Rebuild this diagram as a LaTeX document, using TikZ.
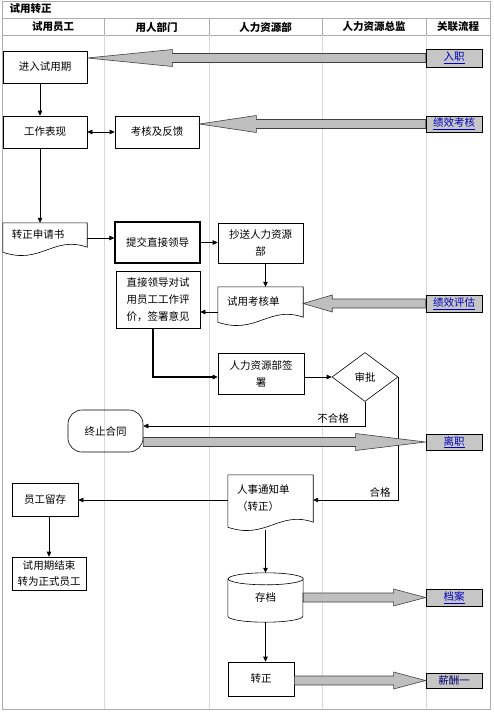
\documentclass[tikz,border=0pt]{standalone}
\usepackage{fontspec}
\setmainfont{Noto Sans CJK SC}
\usepackage{tikz}
\usetikzlibrary{arrows.meta,positioning,shapes,calc}

% document outline with wavy bottom
\newcommand{\docedge}[1]{%
  \draw[line width=0.6pt] (#1.south east) -- (#1.north east) -- (#1.north west) -- ($(#1.south west)+(0,5)$)
    .. controls ($(#1.south west)+(38,18)$) and ($(#1.south east)+(-34,-12)$) .. (#1.south east) -- cycle;}

% grey block arrow: start, tip, signed head length
\newcommand{\blockarrow}[3]{%
  \draw[bigarrow] let \p1=(#1), \p2=(#2), \n1={\x2-(#3)} in
    (\x1,{\y2+4.5pt}) -- (\n1,{\y2+4.5pt}) -- (\n1,{\y2+8.5pt}) -- (\x2,\y2)
    -- (\n1,{\y2-8.5pt}) -- (\n1,{\y2-4.5pt}) -- (\x1,{\y2-4.5pt}) -- cycle;}

\begin{document}
\begin{tikzpicture}[
    x=1pt, y=-1pt,
    font=\fontsize{10.5}{17}\selectfont,
    >={Triangle[length=5pt, width=4.5pt]},
    box/.style={draw, line width=0.6pt, inner sep=1pt, align=center},
    doc/.style={inner xsep=9pt, inner ysep=0pt, align=left},
    link/.style={draw, line width=0.8pt, fill=gray!45, minimum width=56, inner sep=0pt, text=blue!75!black},
    flow/.style={->, line width=0.6pt},
    bigarrow/.style={draw=black!75, fill=gray!50, line width=0.6pt},
    lane/.style={gray!30, line width=0.8pt},
    frame/.style={gray!65, line width=1pt},
    head/.style={font=\fontsize{10.5}{12}\selectfont\bfseries}
]
\useasboundingbox (0,0) rectangle (493,712);

% Frame and lanes
\draw[frame] (2,1) rectangle (490,709);
\draw[frame] (2,18) -- (490,18);
\draw[frame] (2,35) -- (490,35);
\foreach \x in {104,209,322,426} {
  \draw[frame] (\x,18) -- (\x,35);
  \draw[lane] (\x,35) -- (\x,709);
}

% Headers
\node[head, anchor=west] (title) at (6,9) {试用转正};
\node[head] (hdEmp) at (53,27) {试用员工};
\node[head] (hdDept) at (156.5,27) {用人部门};
\node[head] (hdHr) at (265.5,27) {人力资源部};
\node[head] (hdDir) at (374,27) {人力资源总监};
\node[head] (hdRel) at (458,27) {关联流程};

% Employee lane
\node[box, minimum width=84, minimum height=32] (enter) at (45,67) {进入试用期};
\node[box, minimum width=84, minimum height=32] (work) at (45,132) {工作表现};
\node[doc, text width=66, minimum height=24] (apply) at (45,235) {转正申请书};
\docedge{apply}
\node[box, rounded corners=14, minimum width=75, minimum height=42] (stop) at (105.5,431) {终止合同};
\node[box, minimum width=66, minimum height=33] (keep) at (45,499.5) {员工留存};
\node[box, minimum width=74, minimum height=33] (end) at (49,573.5) {试用期结束\\[-1pt]转为正式员工};

% Department lane
\node[box, minimum width=84, minimum height=32] (review) at (157,132) {考核及反馈};
\node[box, line width=1.2pt, minimum width=85, minimum height=41] (submit) at (157.5,242.5) {提交直接领导};
\node[box, minimum width=84, minimum height=57] (eval) at (158,299.5) {直接领导对试\\用员工工作评\\价，签署意见};

% HR lane
\node[box, minimum width=85, minimum height=40] (cc) at (260.5,243) {抄送人力资源\\部};
\node[doc, text width=67, minimum height=30] (form) at (260.5,302) {试用考核单};
\docedge{form}
\node[box, minimum width=86, minimum height=41] (hrsign) at (261,373.5) {人力资源部签\\署};
\node[doc, text width=67, minimum height=47] (notice) at (270.5,498.5) {人事通知单\\（转正）};
\docedge{notice}
\node[minimum width=75, minimum height=49, inner sep=0pt] (archive) at (265.5,597.5) {存档};
\draw[line width=0.6pt] ($(archive.north west)+(0,6)$) -- ($(archive.south west)+(0,-6)$)
  arc[start angle=180, end angle=0, x radius=37.5, y radius=6] -- ($(archive.north east)+(0,6)$)
  arc[start angle=0, end angle=-180, x radius=37.5, y radius=6]
  arc[start angle=180, end angle=0, x radius=37.5, y radius=6];
\node[box, minimum width=66, minimum height=34] (regular) at (261,679) {转正};

% Director lane
\node[diamond, draw, line width=0.6pt, minimum width=66, minimum height=49, inner sep=0pt] (approve) at (365,377) {审批};
\node (failLbl) at (333,418) {不合格};
\node (passLbl) at (380,492) {合格};

% Related processes
\node[link, minimum height=18] (lkJoin) at (454,58) {\underline{入职}};
\node[link, minimum height=16] (lkAppr) at (454,124) {\underline{绩效考核}};
\node[link, minimum height=17] (lkEval) at (454,303.5) {\underline{绩效评估}};
\node[link, minimum height=16] (lkQuit) at (454,442) {\underline{离职}};
\node[link, minimum height=17] (lkFile) at (454,597.5) {\underline{档案}};
\node[link, minimum height=15, text=blue!40!black] (lkPay) at (454,680.5) {薪酬一};

% Flow
\draw[flow] ([xshift=-5pt]enter.south) -- ([xshift=-5pt]work.north);
\draw[flow, <->] (work) -- (review);
\draw[flow] (apply.east |- 0,238) -- (submit.west |- 0,238);
\draw[flow] ([xshift=-5pt]work.south) -- ([xshift=-5pt]apply.north);
\draw[flow] (submit.east) -- (cc.west |- submit.east);
\draw[flow] ([xshift=5pt]cc.south) -- ([xshift=5pt]form.north);
\draw[flow] (form.west |- 0,312) -- (eval.east |- 0,312);
\draw[flow, line width=1.1pt] ([xshift=-5pt]eval.south) |- (hrsign.west |- approve);
\draw[flow] (hrsign.east |- approve) -- (approve.west);
\draw[flow] (approve.south) |- (stop.east |- 0,426);
\draw[flow] (approve.east) |- (notice.east |- 0,500);
\draw[flow] (notice.west |- 0,500) -- (keep.east |- 0,500);
\draw[flow] (keep.south -| end) -- (end.north);
\draw[flow] ($(notice.south -| archive)+(0,8)$) -- (archive.north);
\draw[flow] (archive.south) -- (archive.south |- regular.north);

% Block arrows to related processes
\blockarrow{lkJoin.west}{enter.east |- lkJoin}{-85pt}
\blockarrow{lkAppr.west}{review.east |- lkAppr}{-57pt}
\blockarrow{lkEval.west}{form.east |- lkEval}{-29pt}
\blockarrow{stop.east |- lkQuit}{lkQuit.west}{70pt}
\blockarrow{archive.east |- lkFile}{lkFile.west}{32pt}
\blockarrow{regular.east |- lkPay}{lkPay.west}{32pt}

\end{tikzpicture}
\end{document}
